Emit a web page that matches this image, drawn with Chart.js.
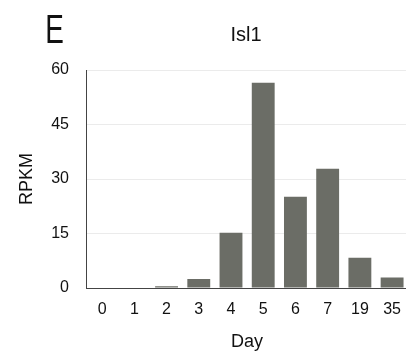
<!DOCTYPE html>
<html>
<head>
<meta charset="utf-8">
<script src="https://cdn.jsdelivr.net/npm/chart.js@4.4.1/dist/chart.umd.min.js"></script>
<style>
  html, body { margin: 0; padding: 0; background: #fff; overflow: hidden; }
  #wrap { position: relative; width: 413px; height: 354px; }
</style>
</head>
<body>
<div id="wrap"><canvas id="c" width="413" height="354"></canvas></div>
<script>
const days = ['0', '1', '2', '3', '4', '5', '6', '7', '19', '35'];
const rpkm = [0, 0, 0.5, 2.5, 15.2, 56.5, 25.1, 32.8, 8.3, 2.9];
const yTicks = [0, 15, 30, 45, 60];
const chartTitle = 'Isl1';
const panelLetter = 'E';
const yLabel = 'RPKM';
const xLabel = 'Day';

const FONT = "'Liberation Sans', Arial, Helvetica, sans-serif";

const textPlugin = {
  id: 'panelText',
  afterDraw(chart) {
    const ctx = chart.ctx;
    const a = chart.chartArea;
    ctx.save();
    ctx.fillStyle = '#111';
    ctx.textAlign = 'center';
    ctx.textBaseline = 'middle';
    ctx.font = '20px ' + FONT;
    ctx.fillText(chartTitle, (a.left + a.right) / 2 - 1, 35);
    // panel letter
    ctx.translate(54.5, 32);
    ctx.scale(0.68, 1);
    ctx.font = '41px ' + FONT;
    ctx.fillText(panelLetter, 0, 0);
    ctx.restore();
  }
};

new Chart(document.getElementById('c'), {
  type: 'bar',
  data: {
    labels: days,
    datasets: [{
      data: rpkm,
      backgroundColor: '#6b6d66',
      borderWidth: 0,
      categoryPercentage: 1.0,
      barPercentage: 0.71
    }]
  },
  options: {
    responsive: false,
    animation: false,
    devicePixelRatio: 1,
    layout: { padding: { left: 0, right: 0, top: 70, bottom: 1 } },
    plugins: { legend: { display: false }, tooltip: { enabled: false } },
    scales: {
      x: {
        grid: { display: false, drawTicks: false },
        border: { display: true, color: '#444', width: 1 },
        ticks: { color: '#111', font: { family: FONT, size: 16 }, padding: 12, maxRotation: 0, autoSkip: false },
        title: { display: true, text: xLabel, color: '#111', font: { family: FONT, size: 18 }, padding: { top: 4, bottom: 0 } },
        afterFit(scale) { scale.height = 65; }
      },
      y: {
        min: 0, max: 60,
        afterBuildTicks(scale) { scale.ticks = yTicks.map(v => ({ value: v })); },
        grid: { color: (c) => c.tick && c.tick.value === 0 ? 'rgba(0,0,0,0)' : '#ebebeb', drawTicks: false, lineWidth: 1 },
        border: { display: true, color: '#444', width: 1 },
        ticks: { color: '#111', font: { family: FONT, size: 16 }, padding: 17 },
        title: { display: true, text: yLabel, color: '#111', font: { family: FONT, size: 18 }, padding: { top: 16, bottom: 0 } },
        afterFit(scale) { scale.width = 86; }
      }
    }
  },
  plugins: [textPlugin]
});
</script>
</body>
</html>
